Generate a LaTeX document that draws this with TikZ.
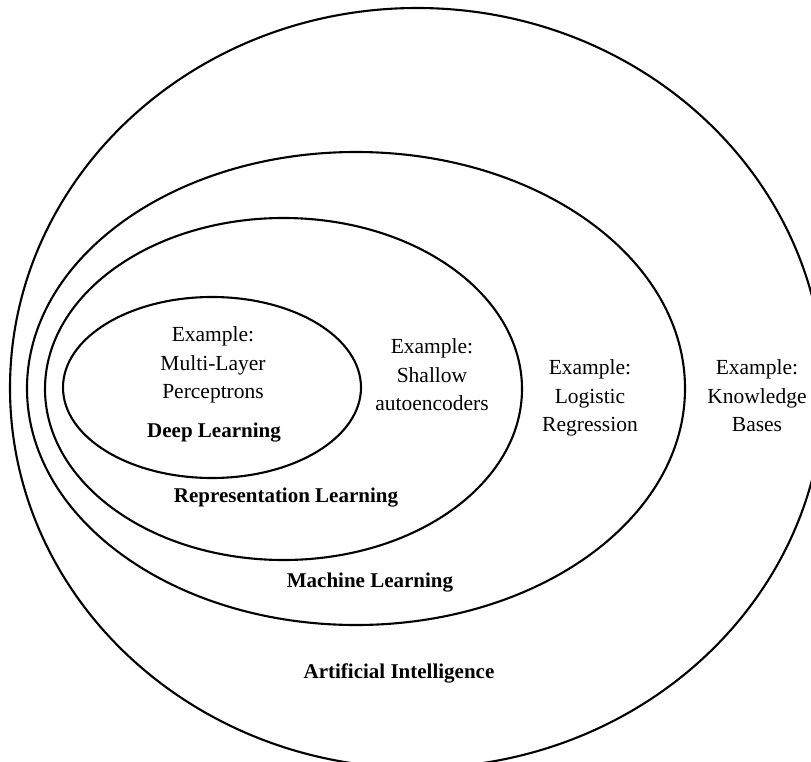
\documentclass[tikz,border=0pt]{standalone}
\usepackage{fontspec}
\setmainfont{Liberation Serif}
\begin{document}
\begin{tikzpicture}[x=1pt,y=-1pt,
  ring/.style={draw=black,line width=2.1pt},
  example/.style={align=center,inner sep=0pt,font=\fontsize{21.5}{28.5}\selectfont},
  field/.style={inner sep=0pt,font=\fontsize{21}{26}\selectfont\bfseries}]
\useasboundingbox (0,0) rectangle (811,762);
\clip (0,0) rectangle (811,762);
% nested fields, outermost first
\draw[ring] (417,388) ellipse [x radius=407, y radius=380];
\draw[ring] (356,388.5) ellipse [x radius=329, y radius=236.5];
\draw[ring] (283.5,389) ellipse [x radius=238.5, y radius=171];
\draw[ring] (212,387.5) ellipse [x radius=149, y radius=90.5];
% examples
\node[example] (exdl) at (213,365) {Example:\\Multi-Layer\\Perceptrons};
\node[example] (exrl) at (432,375) {Example:\\Shallow\\autoencoders};
\node[example] (exml) at (590,398) {Example:\\Logistic\\Regression};
\node[example] (exai) at (757,396) {Example:\\Knowledge\\Bases};
% field names
\node[field] (dl) at (214,433) {Deep Learning};
\node[field] (rl) at (286,498) {Representation Learning};
\node[field] (ml) at (370,583) {Machine Learning};
\node[field] (ai) at (399,673) {Artificial Intelligence};
\end{tikzpicture}
\end{document}
